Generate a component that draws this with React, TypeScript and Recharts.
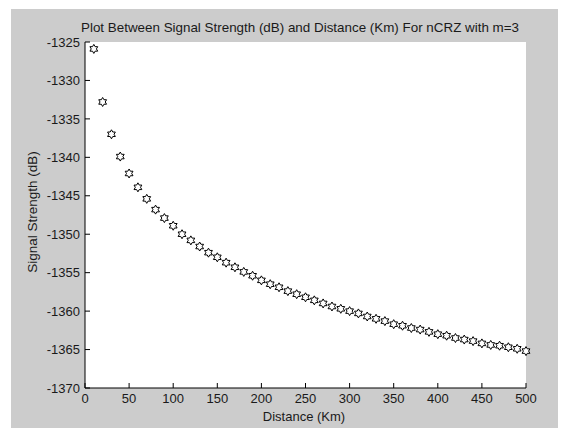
import React from "react";
import {
    ScatterChart,
    Scatter,
    XAxis,
    YAxis,
    CartesianGrid,
} from "recharts";

// distance (Km) and signal strength (dB)
const distance = [
    10, 20, 30, 40, 50, 60, 70, 80, 90, 100,
    110, 120, 130, 140, 150, 160, 170, 180, 190, 200,
    210, 220, 230, 240, 250, 260, 270, 280, 290, 300,
    310, 320, 330, 340, 350, 360, 370, 380, 390, 400,
    410, 420, 430, 440, 450, 460, 470, 480, 490, 500,
];
const signal = [
    -1325.9, -1332.8, -1337.0, -1339.9, -1342.1, -1343.9, -1345.4, -1346.8, -1347.9, -1348.9,
    -1350.0, -1350.8, -1351.6, -1352.4, -1353.0, -1353.7, -1354.3, -1354.9, -1355.4, -1356.0,
    -1356.5, -1356.9, -1357.4, -1357.8, -1358.2, -1358.6, -1359.0, -1359.4, -1359.7, -1360.0,
    -1360.3, -1360.7, -1361.0, -1361.3, -1361.7, -1361.9, -1362.2, -1362.4, -1362.7, -1363.0,
    -1363.2, -1363.5, -1363.7, -1363.9, -1364.2, -1364.4, -1364.5, -1364.7, -1364.9, -1365.2,
];
const xTicks = [0, 50, 100, 150, 200, 250, 300, 350, 400, 450, 500];
const yTicks = [-1370, -1365, -1360, -1355, -1350, -1345, -1340, -1335, -1330, -1325];

const title = "Plot Between Signal Strength (dB) and Distance (Km) For nCRZ with m=3";
const xLabel = "Distance (Km)";
const yLabel = "Signal Strength (dB)";

const data = distance.map((d, i) => ({ x: d, y: signal[i] }));

const FONT = "'Liberation Sans', Arial, sans-serif";
const TEXT = "#1a1a1a";

function Hexagram(props: any) {
    const cx = props.cx ?? props.x + (props.width || 0) / 2;
    const cy = props.cy ?? props.y + (props.height || 0) / 2;
    const R = 4.5;
    const r = R / Math.sqrt(3);
    const pts: string[] = [];
    for (let k = 0; k < 12; k++) {
        const a = ((-90 + k * 30) * Math.PI) / 180;
        const rad = k % 2 === 0 ? R : r;
        pts.push(`${cx + rad * Math.cos(a)},${cy + rad * Math.sin(a)}`);
    }
    return <polygon points={pts.join(" ")} fill="#fff" stroke="#000" strokeWidth={1} />;
}

const tickStyle = { fontSize: 13, fill: TEXT, fontFamily: FONT };

export default function App() {
    return (
        <div
            style={{
                position: "relative",
                margin: "-8px 0 0 -8px",
                width: 566,
                height: 428,
                background: "#fff",
                overflow: "hidden",
            }}
        >
            <div
                style={{
                    position: "absolute",
                    left: 11,
                    top: 9,
                    width: 555,
                    height: 419,
                    background: "#cccccc",
                }}
            />
            <ScatterChart
                width={566}
                height={428}
                margin={{ top: 42, right: 40, bottom: 10, left: 25 }}
                style={{ position: "absolute", left: 0, top: 0 }}
            >
                <CartesianGrid fill="#fff" horizontal={false} vertical={false} />
                <XAxis
                    xAxisId="bottom"
                    dataKey="x"
                    type="number"
                    domain={[0, 500]}
                    ticks={xTicks}
                    interval={0}
                    height={30}
                    tickSize={-5}
                    tickMargin={11}
                    tick={tickStyle}
                    axisLine={{ stroke: "#000" }}
                    tickLine={{ stroke: "#000" }}
                />
                <XAxis
                    xAxisId="top"
                    orientation="top"
                    dataKey="x"
                    type="number"
                    domain={[0, 500]}
                    ticks={xTicks}
                    interval={0}
                    height={0}
                    tickSize={-5}
                    tick={false}
                    axisLine={{ stroke: "#000" }}
                    tickLine={{ stroke: "#000" }}
                />
                <YAxis
                    yAxisId="left"
                    dataKey="y"
                    type="number"
                    domain={[-1370, -1325]}
                    ticks={yTicks}
                    interval={0}
                    width={60}
                    tickSize={-5}
                    tickMargin={10}
                    tick={tickStyle}
                    axisLine={{ stroke: "#000" }}
                    tickLine={{ stroke: "#000" }}
                />
                <YAxis
                    yAxisId="right"
                    orientation="right"
                    dataKey="y"
                    type="number"
                    domain={[-1370, -1325]}
                    ticks={yTicks}
                    interval={0}
                    width={0}
                    tickSize={-5}
                    tick={false}
                    axisLine={{ stroke: "#000" }}
                    tickLine={{ stroke: "#000" }}
                />
                <Scatter
                    data={data}
                    xAxisId="bottom"
                    yAxisId="left"
                    shape={Hexagram}
                    isAnimationActive={false}
                />
            </ScatterChart>
            <svg
                width={566}
                height={428}
                style={{ position: "absolute", left: 0, top: 0, pointerEvents: "none" }}
            >
                <text x={300} y={32} textAnchor="middle" fontSize={13.4} fill={TEXT} fontFamily={FONT}>
                    {title}
                </text>
                <text x={304} y={421} textAnchor="middle" fontSize={13} fill={TEXT} fontFamily={FONT}>
                    {xLabel}
                </text>
                <text
                    x={37}
                    y={212}
                    textAnchor="middle"
                    fontSize={13.5}
                    fill={TEXT}
                    fontFamily={FONT}
                    transform="rotate(-90 37 212)"
                >
                    {yLabel}
                </text>
            </svg>
        </div>
    );
}
